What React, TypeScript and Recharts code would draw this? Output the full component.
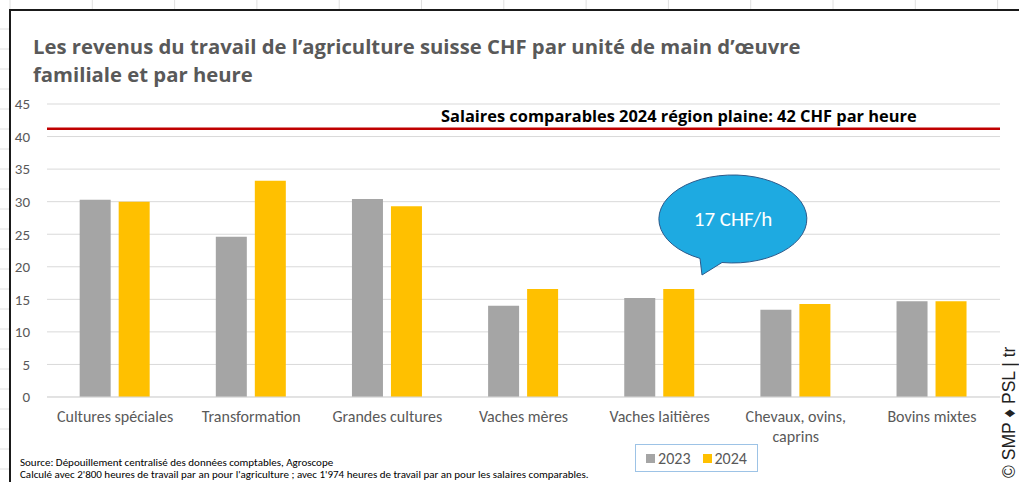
import * as React from 'react'
import {
  BarChart,
  Bar,
  XAxis,
  YAxis,
  CartesianGrid,
  ReferenceLine,
  Label,
} from 'recharts'

// Farm types (line breaks where the reference wraps the label)
const categories = [
  'Cultures spéciales',
  'Transformation',
  'Grandes cultures',
  'Vaches mères',
  'Vaches laitières',
  'Chevaux, ovins,\ncaprins',
  'Bovins mixtes',
]

// CHF per hour of family labour
const values2023 = [30.3, 24.6, 30.4, 14.0, 15.2, 13.4, 14.7]
const values2024 = [30.0, 33.2, 29.3, 16.6, 16.6, 14.3, 14.7]

const yTicks = [0, 5, 10, 15, 20, 25, 30, 35, 40, 45]
const comparableWage = 41.2
const comparableLabel = 'Salaires comparables 2024 région plaine: 42 CHF par heure'

const series = [
  { key: 'y2023', name: '2023', color: '#A5A5A5' },
  { key: 'y2024', name: '2024', color: '#FFC000' },
]

const chartData = categories.map((cat, i) => ({
  cat,
  y2023: values2023[i],
  y2024: values2024[i],
}))

const FONT = 'Carlito, Lato, "Open Sans", sans-serif'
const BOLD_FONT = '"Open Sans", Lato, sans-serif'
const GREY_TEXT = '#595959'

const CategoryTick = (props: any) => {
  const { x, y, payload } = props
  const lines = String(payload.value).split('\n')
  return (
    <g transform={`translate(${x},${y})`}>
      {lines.map((line, i) => (
        <text
          key={i}
          x={0}
          y={17 + i * 20}
          textAnchor="middle"
          fill={GREY_TEXT}
          fontSize={16}
          fontFamily={FONT}
        >
          {line}
        </text>
      ))}
    </g>
  )
}

const WageLabel = (props: any) => {
  const { viewBox } = props
  return (
    <text
      x={viewBox.x + viewBox.width * 0.663}
      y={viewBox.y - 7}
      textAnchor="middle"
      fontSize={16.4}
      fontWeight="bold"
      fontFamily={BOLD_FONT}
      fill="#000"
    >
      {comparableLabel}
    </text>
  )
}

export default function App() {
  // faint spreadsheet cell lines peeking out around the frame
  const colLines = Array.from({ length: 13 }, (_, i) => 10 + i * 82.3)
  const rowLines = Array.from({ length: 24 }, (_, i) => 29 + i * 20)

  return (
    <div
      style={{
        position: 'absolute',
        left: 0,
        top: 0,
        width: 1019,
        height: 482,
        background: '#fff',
        overflow: 'hidden',
        fontFamily: FONT,
      }}
    >
      <svg width={1019} height={482} style={{ position: 'absolute', left: 0, top: 0 }}>
        {colLines.map((x, i) => (
          <line key={'c' + i} x1={x} x2={x} y1={0} y2={10} stroke="#E0E0E0" />
        ))}
        {rowLines.map((y, i) => (
          <line key={'r' + i} x1={0} x2={10} y1={y} y2={y} stroke="#E0E0E0" />
        ))}
        <path d="M10,482 L10,10 L1019,10" fill="none" stroke="#1a1a1a" strokeWidth={2} />
      </svg>

      <div
        style={{
          position: 'absolute',
          left: 33,
          top: 32,
          fontSize: 20.3,
          fontWeight: 'bold',
          fontFamily: BOLD_FONT,
          color: GREY_TEXT,
          lineHeight: '28px',
          whiteSpace: 'nowrap',
        }}
      >
        Les revenus du travail de l’agriculture suisse CHF par unité de main d’œuvre
        <br />
        familiale et par heure
      </div>

      <div style={{ position: 'absolute', left: 0, top: 0 }}>
        <BarChart
          width={1019}
          height={482}
          data={chartData}
          margin={{ top: 104, right: 19, bottom: 25, left: 10 }}
          barCategoryGap="24%"
          barGap={8}
        >
          <CartesianGrid vertical={false} stroke="#D9D9D9" strokeWidth={1} />
          <XAxis
            dataKey="cat"
            height={60}
            interval={0}
            axisLine={{ stroke: '#D9D9D9' }}
            tickLine={false}
            tick={<CategoryTick />}
          />
          <YAxis
            width={37}
            domain={[0, 45]}
            ticks={yTicks}
            interval={0}
            axisLine={false}
            tickLine={false}
            tickMargin={11}
            tick={{ fill: GREY_TEXT, fontSize: 15, fontFamily: FONT }}
          />
          {series.map((s) => (
            <Bar
              key={s.key}
              dataKey={s.key}
              name={s.name}
              fill={s.color}
              isAnimationActive={false}
            />
          ))}
          <ReferenceLine y={comparableWage} stroke="#C00000" strokeWidth={2.5}>
            <Label content={<WageLabel />} />
          </ReferenceLine>
        </BarChart>
      </div>

      {/* speech bubble annotation */}
      <svg width={1019} height={482} style={{ position: 'absolute', left: 0, top: 0 }}>
        <path
          d="M700,258.4 L702,275 L722,262.5 A74,44 0 1 0 700,258.4 Z"
          fill="#1EAAE1"
          stroke="#2E5A8A"
          strokeWidth={1}
        />
        <text
          x={733}
          y={226}
          textAnchor="middle"
          fill="#fff"
          fontSize={21}
          fontFamily={FONT}
        >
          17 CHF/h
        </text>
      </svg>

      {/* legend */}
      <div
        style={{
          position: 'absolute',
          left: 635,
          top: 444,
          width: 121,
          height: 26,
          border: '1px solid #9DC3E6',
          display: 'flex',
          alignItems: 'center',
          justifyContent: 'center',
          gap: 12,
          fontSize: 16,
          color: GREY_TEXT,
          background: '#fff',
        }}
      >
        {series.map((s) => (
          <span key={s.key} style={{ display: 'flex', alignItems: 'center', gap: 3 }}>
            <span style={{ width: 9, height: 9, background: s.color, display: 'inline-block' }} />
            {s.name}
          </span>
        ))}
      </div>

      <div
        style={{
          position: 'absolute',
          left: 20,
          top: 457,
          fontSize: 11,
          lineHeight: '12px',
          color: '#000',
          whiteSpace: 'nowrap',
        }}
      >
        Source: Dépouillement centralisé des données comptables, Agroscope
        <br />
        Calculé avec 2'800 heures de travail par an pour l'agriculture ; avec 1'974 heures de travail par an pour les salaires comparables.
      </div>

      <div
        style={{
          position: 'absolute',
          left: 1000,
          top: 478,
          transform: 'rotate(-90deg)',
          transformOrigin: '0 0',
          fontSize: 17.5,
          lineHeight: '19px',
          fontFamily: '"Liberation Sans", Arial, sans-serif',
          color: '#222',
          whiteSpace: 'nowrap',
        }}
      >
        © SMP ♦ PSL | tr
      </div>
    </div>
  )
}
